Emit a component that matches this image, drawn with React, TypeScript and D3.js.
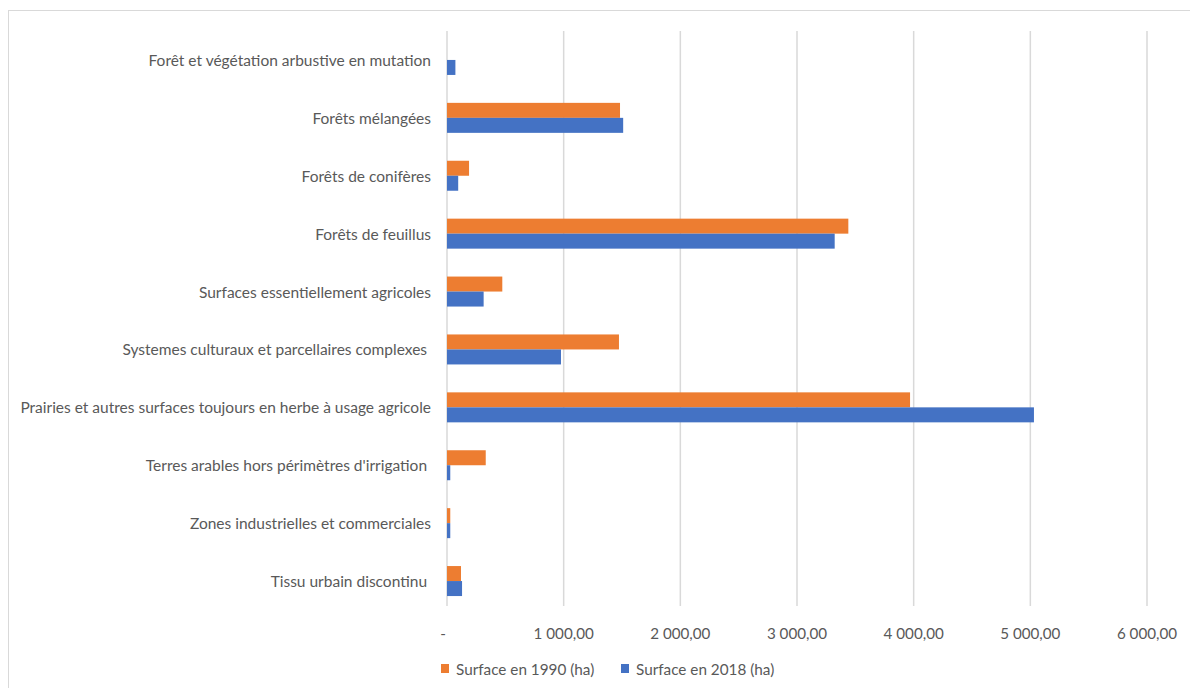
import React from "react";
import * as d3 from "d3";

const categories = [
  "Forêt et végétation arbustive en mutation",
  "Forêts mélangées",
  "Forêts de conifères",
  "Forêts de feuillus",
  "Surfaces essentiellement agricoles",
  "Systemes culturaux et parcellaires complexes ",
  "Prairies et autres surfaces toujours en herbe à usage agricole",
  "Terres arables hors périmètres d'irrigation ",
  "Zones industrielles et commerciales",
  "Tissu urbain discontinu ",
];
const surface1990 = [0, 1483, 189, 3440, 474, 1474, 3969, 332, 28, 120];
const surface2018 = [72, 1510, 96, 3323, 314, 977, 5031, 28, 28, 129];
const xTicks = [0, 1000, 2000, 3000, 4000, 5000, 6000];
const seriesNames = ["Surface en 1990 (ha)", "Surface en 2018 (ha)"];
const colors = ["#ED7D31", "#4472C4"];

const fmt = (v: number) => {
  if (v === 0) return "-";
  const s = d3.format(",.2f")(v);
  return s.replace(/,/g, " ").replace(".", ",");
};

export default function App() {
  const W = 1190, H = 688;
  const x0 = 447, x1 = 1147;
  const y0 = 31, y1 = 610;
  const x = d3.scaleLinear().domain([0, 6000]).range([x0, x1]);
  const y = d3
    .scaleBand<string>()
    .domain(categories)
    .range([y0, y1])
    .paddingInner(0.482)
    .paddingOuter(0.241);
  const bw = y.bandwidth() / 2;
  const font = "Lato, 'Open Sans', sans-serif";
  const textColor = "#595959";

  return (
    <svg
      width={W}
      height={H}
      style={{ position: "absolute", left: 0, top: 0, background: "#fff" }}
    >
      <rect x={8.5} y={10.5} width={W} height={H} fill="#fff" stroke="#d9d9d9" strokeWidth={1} />
      {xTicks.map((t) => (
        <line
          key={"g" + t}
          x1={x(t)}
          x2={x(t)}
          y1={y0}
          y2={y1 - 4}
          stroke="#d9d9d9"
          strokeWidth={1.5}
        />
      ))}
      {categories.map((c, i) => (
        <g key={c}>
          {surface1990[i] > 0 && (
            <rect x={x(0)} y={y(c)!} width={x(surface1990[i]) - x(0)} height={bw} fill={colors[0]} />
          )}
          <rect x={x(0)} y={y(c)! + bw} width={x(surface2018[i]) - x(0)} height={bw} fill={colors[1]} />
          <text
            x={431}
            y={y(c)! + bw}
            textAnchor="end"
            dominantBaseline="central"
            fontFamily={font}
            fontSize={15.5}
            fill={textColor}
            xmlSpace="preserve"
            style={{ whiteSpace: "pre" }}
          >
            {c}
          </text>
        </g>
      ))}
      {xTicks.map((t) => (
        <text
          key={"t" + t}
          x={t === 0 ? x(t) - 4 : x(t)}
          y={633}
          textAnchor="middle"
          dominantBaseline="central"
          fontFamily={font}
          fontSize={15.2}
          fill={textColor}
        >
          {fmt(t)}
        </text>
      ))}
      {seriesNames.map((s, i) => {
        const lx = i === 0 ? 441 : 621;
        return (
          <g key={s}>
            <rect x={lx} y={664} width={8} height={9} fill={colors[i]} />
            <text
              x={lx + 15}
              y={668.5}
              dominantBaseline="central"
              fontFamily={font}
              fontSize={15.3}
              fill={textColor}
            >
              {s}
            </text>
          </g>
        );
      })}
    </svg>
  );
}
